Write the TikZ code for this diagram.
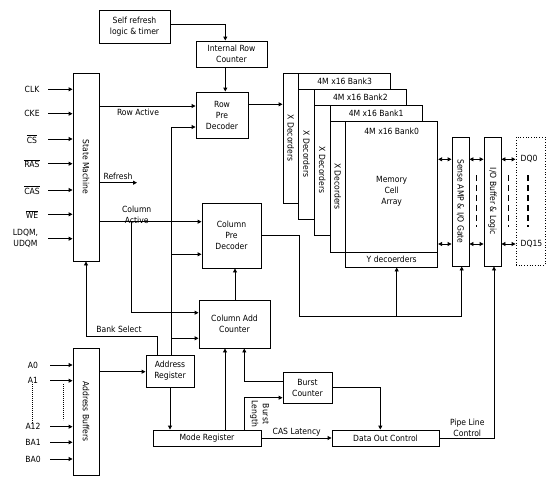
\documentclass[tikz,border=0pt]{standalone}
\usepackage{fontspec}
\setmainfont{DejaVu Sans Condensed}
\usetikzlibrary{arrows.meta}
\newcommand{\ovl}[1]{$\overline{\mbox{#1}}$}
\begin{document}
\begin{tikzpicture}[x=1pt,y=-1pt, font=\fontsize{8.5}{11}\selectfont,
  box/.style={draw, line width=0.9pt, fill=white, inner sep=0pt, align=center},
  arr/.style={line width=0.9pt, -{Triangle[length=4pt,width=4pt]}},
  darr/.style={line width=0.9pt, {Triangle[length=4pt,width=4pt]}-{Triangle[length=4pt,width=4pt]}},
  ln/.style={line width=0.9pt},
  lbl/.style={inner sep=0pt, align=center},
  vtxt/.style={inner sep=0pt, rotate=-90, align=center},
  dashv/.style={line width=0.9pt, dash pattern=on 6pt off 4pt},
  dotv/.style={line width=0.8pt, dash pattern=on 0.8pt off 1.2pt}]
\useasboundingbox (0,0) rectangle (554,479);

% ---------- boxes ----------
\node[box, minimum width=71pt, minimum height=33pt] (self) at (134.5,26.5) {Self refresh\\logic \& timer};
\node[box, minimum width=71pt, minimum height=26pt] (irc) at (231.5,54) {Internal Row\\Counter};
\node[box, minimum width=52pt, minimum height=46pt] (rpd) at (222,115) {Row\\Pre\\Decoder};
\node[box, minimum width=26pt, minimum height=188pt] (sm) at (86,167) {};
\node[vtxt] at (sm) {State Machine};
\node[box, minimum width=26pt, minimum height=127pt] (ab) at (86,411.5) {};
\node[vtxt] at (ab) {Address Buffers};
\node[box, minimum width=59pt, minimum height=65pt] (cpd) at (231.5,235.5) {Column\\Pre\\Decoder};
\node[box, minimum width=71pt, minimum height=48pt] (cac) at (234.5,324) {Column Add\\Counter};
\node[box, minimum width=48pt, minimum height=32pt] (ar) at (170,371) {Address\\Register};
\node[box, minimum width=108pt, minimum height=16pt] (mr) at (207,438) {Mode Register};
\node[box, minimum width=49pt, minimum height=31pt] (bc) at (307.5,387.5) {Burst\\Counter};
\node[box, minimum width=107pt, minimum height=16pt] (doc) at (385.5,438) {Data Out Control};
\node[box, minimum width=17pt, minimum height=129pt] (sense) at (460.5,201.5) {};
\node[vtxt] at (sense) {Sense AMP \& I/O Gate};
\node[box, minimum width=17pt, minimum height=129pt] (iob) at (492.5,201.5) {};
\node[vtxt] at (iob) {I/O Buffer \& Logic};
\node[draw, line width=0.9pt, dash pattern=on 0.9pt off 1.8pt, inner sep=0pt, minimum width=29pt, minimum height=128pt] (dq) at (530.5,201) {};

% ---------- banks ----------
\node[box, minimum width=15.7pt, minimum height=130pt] (xd3) at (290.85,138) {};
\node[vtxt] at (xd3) {X Decorders};
\node[box, minimum width=92pt, minimum height=16pt] (bar3) at (344.7,81) {4M x16 Bank3};
\node[box, minimum width=15.7pt, minimum height=130pt] (xd2) at (306.55,154) {};
\node[vtxt] at (xd2) {X Decorders};
\node[box, minimum width=92pt, minimum height=16pt] (bar2) at (360.4,97) {4M x16 Bank2};
\node[box, minimum width=15.7pt, minimum height=130pt] (xd1) at (322.25,170) {};
\node[vtxt] at (xd1) {X Decorders};
\node[box, minimum width=92pt, minimum height=16pt] (bar1) at (376.1,113) {4M x16 Bank1};
\node[box, minimum width=15.7pt, minimum height=131pt] (xd0) at (337.85,186.5) {};
\node[vtxt] at (xd0) {X Decorders};
\node[box, minimum width=92pt, minimum height=131pt] (mem) at (391.7,186.5) {};
\node[lbl] at (391.7,131) {4M x16 Bank0};
\node[lbl] at (391.7,191.3) {Memory\\Cell\\Array};
\node[box, minimum width=92pt, minimum height=15pt] (ydec) at (391.7,259.5) {Y decoerders};

% ---------- inputs ----------
\foreach \y/\n/\t in {89.3/clk/CLK, 113.7/cke/CKE, 139/cs/\ovl{CS}, 163.7/ras/\ovl{RAS}, 190/cas/\ovl{CAS}, 214.3/we/\ovl{WE}}{
  \node[lbl] (\n) at (32,\y) {\t};
  \coordinate (\n-s) at (48.3,\y);
  \draw[arr] (\n-s) -- (sm.west |- \n-s);
}
\node[lbl] (dqm) at (25.5,238.3) {LDQM,\\UDQM};
\coordinate (dqm-s) at (48.3,238.7);
\draw[arr] (dqm-s) -- (sm.west |- dqm-s);

\foreach \y/\n/\t in {365/a0/A0, 380.7/a1/A1, 426.7/a12/A12, 442.3/ba1/BA1, 459/ba0/BA0}{
  \node[lbl] (\n) at (33,\y) {\t};
  \coordinate (\n-s) at (50,\y);
  \draw[arr] (\n-s) -- (ab.west |- \n-s);
}
\draw[dotv] (a1.south -| 32.3,0) -- (a12.north -| 32.3,0);
\draw[dotv] (63.3,384) -- (63.3,420);

% ---------- connectors ----------
\draw[arr] (self.east |- 0,24.3) -| (irc.north -| 225.3,0);
\draw[arr] (irc.south -| 225.3,0) -- (rpd.north -| 225.3,0);
\draw[arr] (sm.east |- 0,106) -- (rpd.west |- 0,106);
\node[lbl] at (138,112) {Row Active};
\coordinate (refend) at (137,182.7);
\draw[arr] (sm.east |- refend) -- (refend);
\node[lbl] at (118,176.5) {Refresh};
\draw[arr] (sm.east |- 0,221.7) -- (cpd.west |- 0,221.7);
\node[lbl] at (136.7,215.3) {Column\\Active};
\coordinate (cabr) at (131,221.7);
\draw[arr] (cabr) |- (cac.west |- 0,312.7);
\draw[arr] (ar.north -| 171,0) |- (rpd.west |- 0,127);
\coordinate (b1) at (171,254.3);
\coordinate (b2) at (171,338.3);
\draw[arr] (b1) -- (cpd.west |- b1);
\draw[arr] (b2) -- (cac.west |- b2);
\draw[arr] (cac.north -| 235,0) -- (cpd.south -| 235,0);
\draw[arr] (ar.north -| 157.3,0) |- (sm.south |- 0,336) -- (sm.south);
\node[lbl] at (119,329) {Bank Select};
\draw[arr] (ab.east |- 0,371.7) -- (ar.west |- 0,371.7);
\draw[arr] (ar.south) -- (ar.south |- mr.north);
\draw[arr] (mr.north -| 225,0) -- (cac.south -| 225,0);
\draw[arr] (bc.west |- 0,381) -| (cac.south -| 244.3,0);
\draw[arr] (mr.north -| 244.3,0) |- (bc.west |- 0,397.7);
\node[vtxt] at (259.5,414) {Burst\\Length};
\draw[arr] (bc.east) -| (doc.north -| 380.3,0);
\draw[arr] (mr.east) -- (doc.west);
\node[lbl] at (296.7,432.5) {CAS Latency};
\draw[arr] (doc.east) -| (iob.south -| 494,0);
\node[lbl] at (467.3,427.7) {Pipe Line\\Control};
\draw[arr] (rpd.east |- 0,104.3) -- (xd3.west |- 0,104.3);
\coordinate (cr) at (299,316.7);
\draw[arr] (cpd.east) -| (cr) -| (sense.south -| 461.7,0);
\coordinate (yb) at (396.7,316.7);
\draw[arr] (yb) -- (ydec.south -| yb);

% ---------- data paths ----------
\foreach \y in {159.3,244}{
  \draw[darr] (mem.east |- 0,\y) -- (sense.west |- 0,\y);
  \draw[darr] (sense.east |- 0,\y) -- (iob.west |- 0,\y);
  \draw[darr] (iob.east |- 0,\y) -- (dq.west |- 0,\y);
}
\node[anchor=west, inner sep=0pt] (dq0) at (520.5,159.3) {DQ0};
\node[anchor=west, inner sep=0pt] (dq15) at (520.5,244) {DQ15};
\draw[dashv] (476.7,175) -- (476.7,227);
\draw[dashv] (508.3,175) -- (508.3,227);
\draw[dashv, line width=1.8pt] (527.7,175) -- (527.7,227);
\end{tikzpicture}
\end{document}
